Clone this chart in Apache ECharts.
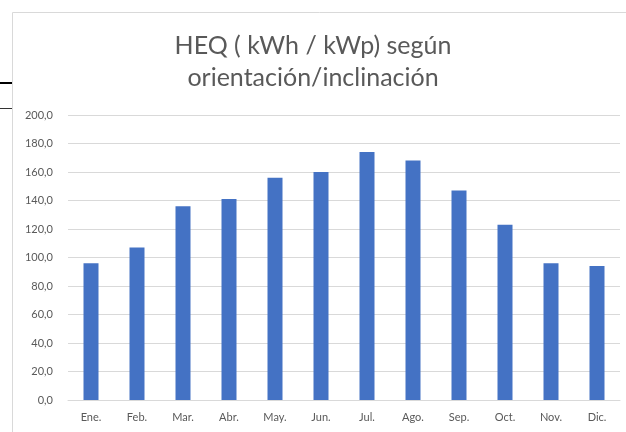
<!DOCTYPE html>
<html><head><meta charset="utf-8">
<script src="https://cdn.jsdelivr.net/npm/echarts@6/dist/echarts.min.js"></script>
<style>html,body{margin:0;padding:0;background:#fff}#c{width:626px;height:432px}</style>
</head><body><div id="c"></div>
<script>
const categories = ['Ene.','Feb.','Mar.','Abr.','May.','Jun.','Jul.','Ago.','Sep.','Oct.','Nov.','Dic.'];
const heqValues = [96, 107, 136, 141, 156, 160, 174, 168, 147, 123, 96, 94];
const titleText = 'HEQ ( kWh / kWp) según\norientación/inclinación';

const chart = echarts.init(document.getElementById('c'));
chart.setOption({
  animation: false,
  graphic: [
    {type:'rect', shape:{x:12.5,y:12.5,width:640,height:440}, style:{fill:'none',stroke:'#d9d9d9',lineWidth:1}, z:-1},
    {type:'line', shape:{x1:0,y1:83,x2:12,y2:83}, style:{stroke:'#000',lineWidth:2}},
    {type:'line', shape:{x1:0,y1:108.5,x2:12,y2:108.5}, style:{stroke:'#333',lineWidth:1}}
  ],
  title: {
    text: titleText,
    left: 'center', top: 25,
    textStyle: {fontFamily:'Lato', fontSize:25, fontWeight:'normal', color:'#595959', lineHeight:32, align:'center'}
  },
  grid: {left:68, right:6, top:115, bottom:32},
  xAxis: {
    type:'category', data:categories,
    axisLine:{lineStyle:{color:'#d9d9d9'}},
    axisTick:{show:false},
    axisLabel:{color:'#595959', fontSize:11, fontFamily:'Lato', margin:12}
  },
  yAxis: {
    type:'value', min:0, max:200, interval:20,
    axisLine:{show:false}, axisTick:{show:false},
    splitLine:{lineStyle:{color:'#d9d9d9'}},
    axisLabel:{color:'#595959', fontSize:11, fontFamily:'Lato', margin:15,
      formatter: v => v.toFixed(1).replace('.', ',')}
  },
  series: [{
    type:'bar', data:heqValues, barWidth:15,
    itemStyle:{color:'#4472c4'}
  }]
});
</script></body></html>
